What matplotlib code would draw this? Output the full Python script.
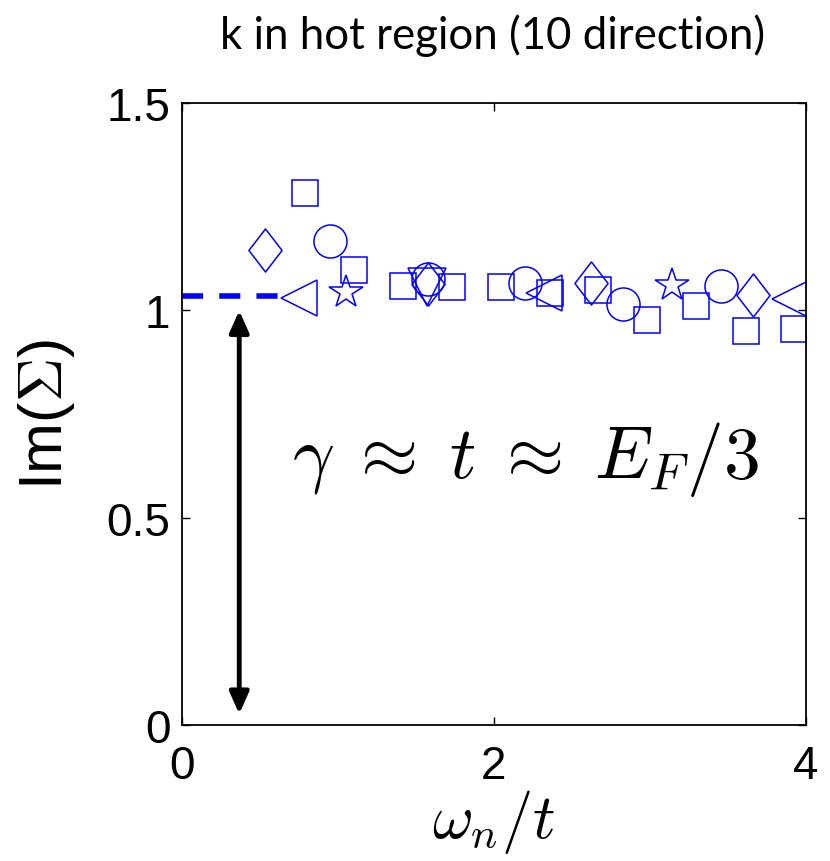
import numpy as np
from matplotlib import pyplot as plt
from matplotlib.path import Path

# omega_n / t positions and Im(Sigma) values, one list per marker series
sq_x = [0.794, 1.105, 1.419, 1.734, 2.048, 2.362, 2.671, 2.987, 3.300, 3.616, 3.924]
sq_y = [1.283, 1.098, 1.059, 1.055, 1.055, 1.041, 1.050, 0.977, 1.011, 0.949, 0.954]
circ_x = [0.949, 1.579, 2.202, 2.829, 3.456]
circ_y = [1.168, 1.075, 1.067, 1.015, 1.059]
diam_x = [0.533, 1.579, 2.622, 3.665]
diam_y = [1.145, 1.063, 1.065, 1.038]
ltri_x = [0.753, 2.322, 3.899]
ltri_y = [1.030, 1.042, 1.027]
star_x = [1.056, 3.142]
star_y = [1.045, 1.061]
dtri_x = [1.575]
dtri_y = [1.055]

gamma = 1.034        # extrapolated value (dashed line)
dash_end = 0.625
arrow_x = 0.37

xticks = [0, 2, 4]
yticks = [0, 0.5, 1, 1.5]
ytick_labels = ["0", "0.5", "1", "1.5"]

plt.rcParams['mathtext.fontset'] = 'cm'
plt.rcParams['font.family'] = 'Liberation Sans'

fig = plt.figure(figsize=(8.3, 8.62), dpi=100)
ax = fig.add_axes([0.2187, 0.1578, 0.7518, 0.7216])

# tall diamond like matlab's
diamond = Path([(0, 1), (0.77, 0), (0, -1), (-0.77, 0), (0, 1)],
               [Path.MOVETO, Path.LINETO, Path.LINETO, Path.LINETO, Path.CLOSEPOLY])

blue = (0, 0, 1)
kw = dict(ls='none', mfc='none', mec=blue, mew=1.1)
ax.plot(sq_x, sq_y, marker='s', ms=19.4, **kw)
ax.plot(circ_x, circ_y, marker='o', ms=23.8, **kw)
ax.plot(diam_x, diam_y, marker=diamond, ms=31, **kw)
ax.plot(ltri_x, ltri_y, marker='<', ms=26, **kw)
ax.plot(star_x, star_y, marker='*', ms=25, **kw)
ax.plot(dtri_x, dtri_y, marker='v', ms=27, **kw)

ax.plot([0, dash_end], [gamma, gamma], '--', color=blue, lw=4, dashes=(3.8, 2.9))

ax.annotate('', xy=(arrow_x, 0.9994), xytext=(arrow_x, 0.0265),
            arrowprops=dict(arrowstyle='<|-|>,head_length=0.45,head_width=0.2',
                            lw=3.5, color='k', mutation_scale=29,
                            shrinkA=0, shrinkB=0))

ax.text(0.708, 0.598, r'$\gamma\;\approx\;t\;\approx\;E_F/3$', fontsize=53,
        ha='left', va='baseline')

ax.set_xlim(0, 4)
ax.set_ylim(0, 1.5)
ax.set_xticks(xticks)
ax.set_yticks(yticks)
ax.set_yticklabels(ytick_labels)
ax.tick_params(direction='in', length=6, width=1, top=True, right=True, labelsize=33)
ax.tick_params(axis='x', pad=14)
ax.tick_params(axis='y', pad=8)
for s in ax.spines.values():
    s.set_linewidth(1.3)

ax.set_xlabel(r'$\omega_n/t$', fontsize=45, va='top')
ax.xaxis.set_label_coords(0.5, -0.10)
ax.set_ylabel(r'Im($\Sigma$)', fontsize=44, va='center')
ax.yaxis.set_label_coords(-0.217, 0.5)

fig.text(0.594, 0.959, 'k in hot region (10 direction)', family='Lato',
         fontsize=31.5, ha='center', va='center')

plt.savefig('out.png', dpi=100)
